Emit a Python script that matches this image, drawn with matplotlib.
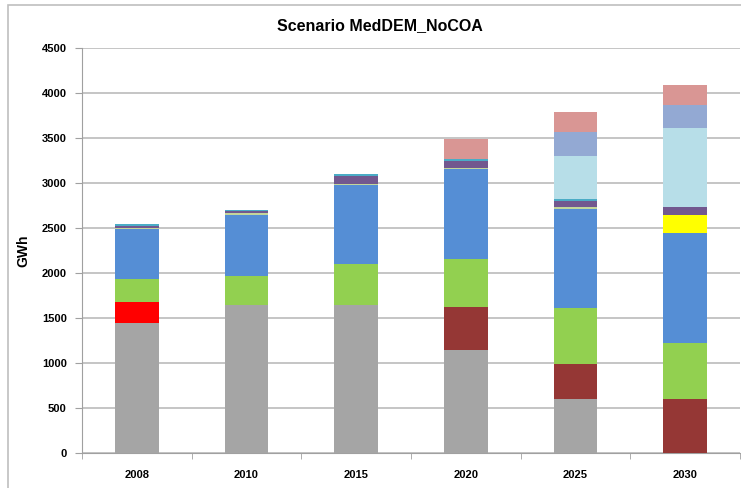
import numpy as np
import matplotlib.pyplot as plt
from matplotlib.patches import Rectangle

# Datos (GWh), de abajo hacia arriba
years = ['2008', '2010', '2015', '2020', '2025', '2030']
gray = [1450, 1650, 1650, 1150, 600, 0]
red = [230, 0, 0, 0, 0, 0]
darkred = [0, 0, 0, 470, 390, 600]
green = [250, 320, 450, 540, 625, 625]
blue = [555, 680, 880, 990, 1100, 1215]
olive = [10, 15, 10, 15, 20, 0]
yellow = [0, 0, 0, 0, 0, 200]
purple = [30, 20, 90, 80, 65, 90]
teal = [15, 10, 20, 20, 25, 0]
lightcyan = [0, 0, 0, 0, 480, 880]
steel = [0, 0, 0, 0, 265, 255]
pink = [0, 0, 0, 225, 220, 225]

series = [gray, red, darkred, green, blue, olive, yellow, purple, teal, lightcyan, steel, pink]
colors = ['#A5A5A5', '#FF0000', '#953735', '#92D050', '#558ED5', '#C3D69B',
          '#FFFF00', '#72588F', '#4BACC6', '#B7DEE8', '#93A9D3', '#D99694']

plt.rcParams['font.family'] = ['Liberation Sans', 'DejaVu Sans']

fig = plt.figure(figsize=(7.41, 4.88), dpi=100)
fig.patches.append(Rectangle((8/741, -0.1), 1.1, (488-5)/488 + 0.1, transform=fig.transFigure,
                             fill=False, edgecolor='#BFBFBF', linewidth=1.2))
ax = fig.add_axes([82/741, 35/488, 658/741, 405/488])

x = np.arange(len(years))
bottom = np.zeros(len(years))
for vals, col in zip(series, colors):
    ax.bar(x, vals, width=0.4, bottom=bottom, color=col, edgecolor='none', zorder=3)
    bottom += np.array(vals)

ax.set_xlim(-0.5, len(years) - 0.5)
ax.set_ylim(0, 4500)
ax.set_yticks(np.arange(0, 4501, 500))
ax.yaxis.grid(True, color='#C0C0C0', linewidth=1.3, zorder=0)
ax.set_xticks(x)
ax.set_xticklabels(years, fontsize=8, fontweight='bold')
ax.set_xticks(np.arange(-0.5, len(years)), minor=True)
ax.tick_params(axis='x', which='major', length=0, pad=12)
ax.tick_params(axis='x', which='minor', length=4, color='#A0A0A0')
ax.tick_params(axis='y', length=5, color='#A0A0A0', labelsize=8, pad=6)
for lab in ax.get_yticklabels():
    lab.set_fontweight('bold')
for s in ['top', 'right']:
    ax.spines[s].set_visible(False)
for s in ['left', 'bottom']:
    ax.spines[s].set_color('#A0A0A0')
ax.set_ylabel('GWh', fontsize=10, fontweight='bold')
ax.yaxis.set_label_coords(-0.079, 0.5)

fig.text(380/741, 1 - 26/488, 'Scenario MedDEM_NoCOA', ha='center', va='center',
         fontsize=11.5, fontweight='bold')

fig.savefig('out.png', dpi=100)
